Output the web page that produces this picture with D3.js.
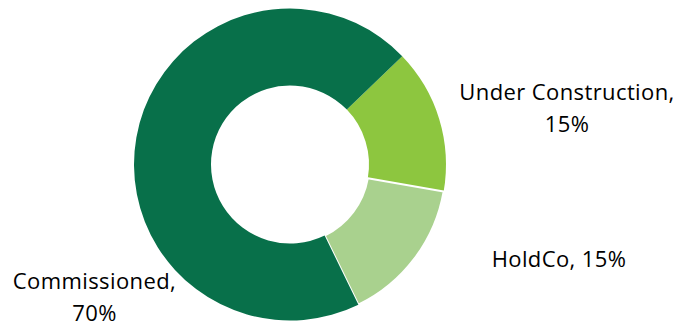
<!DOCTYPE html>
<html>
<head>
<meta charset="utf-8">
<script src="https://cdn.jsdelivr.net/npm/d3@7"></script>
<style>
  html, body { margin: 0; padding: 0; background: #fff; }
  svg { display: block; }
  text { font-family: "Open Sans", Lato, sans-serif; fill: #000; }
</style>
</head>
<body>
<svg id="chart" width="682" height="324"></svg>
<script>
// Portfolio split by project status
const categories = ["Under Construction", "HoldCo", "Commissioned"];
const shares = [15, 15, 70];
const valueLabels = ["15%", "15%", "70%"];
const colors = ["#8DC63F", "#A9D18E", "#08704A"];

const svg = d3.select("#chart");
const cx = 290, cy = 164.5;
const outerR = 156, innerR = 79;

const pie = d3.pie()
  .sort(null)
  .value(d => d)
  .startAngle(46 * Math.PI / 180)
  .endAngle(46 * Math.PI / 180 + 2 * Math.PI);

const arc = d3.arc().innerRadius(innerR).outerRadius(outerR);

const g = svg.append("g").attr("transform", `translate(${cx},${cy})`);

const arcs = pie(shares);

g.selectAll("path")
  .data(arcs)
  .join("path")
  .attr("d", arc)
  .attr("fill", (d, i) => colors[i])
  .attr("stroke", (d, i) => categories[i] === "HoldCo" ? "#fff" : "none")
  .attr("stroke-width", 2)
  .attr("stroke-linejoin", "round");

// Slice labels: lines of text anchored at their centre
const labelLayout = [
  { lines: [categories[0] + ",", valueLabels[0]], x: 567, y: 100, lh: 32 },
  { lines: [categories[1] + ", " + valueLabels[1]], x: 559, y: 266.5, lh: 32 },
  { lines: [categories[2] + ",", valueLabels[2]], x: 94.5, y: 289, lh: 31.5 }
];

const fontSize = 22;
labelLayout.forEach(l => {
  const t = svg.append("text")
    .attr("text-anchor", "middle")
    .attr("font-size", fontSize)
    .attr("letter-spacing", 0.4);
  l.lines.forEach((s, j) => {
    t.append("tspan")
      .attr("x", l.x)
      .attr("y", l.y + j * l.lh)
      .text(s);
  });
});
</script>
</body>
</html>
